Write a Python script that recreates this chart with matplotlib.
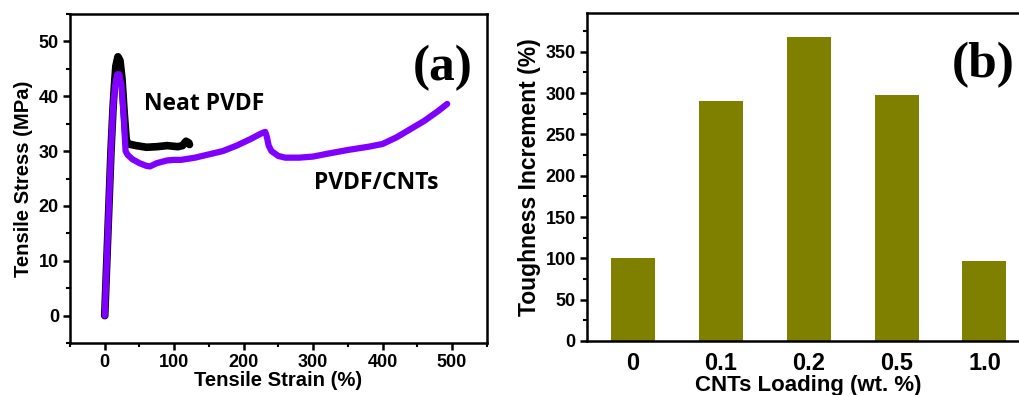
import matplotlib
matplotlib.use("Agg")
import matplotlib.pyplot as plt
from matplotlib.ticker import MultipleLocator

# --- data ---
neat_strain = [0, 6, 9, 12, 14, 16, 19, 22, 25, 28, 31, 34, 45, 60, 75, 90, 105, 112, 117, 121, 122]
neat_stress = [0, 20, 30, 38, 42, 45.5, 47.2, 46.5, 43, 37, 32, 31.3, 31, 30.7, 30.8, 31, 30.8, 31, 31.8, 31.5, 31.2]

cnt_strain = [0, 3, 6, 9, 12, 15, 18, 21, 24, 27, 30, 33, 40, 50, 60, 65, 75, 90, 100, 110, 130,
              150, 170, 190, 210, 225, 231, 233, 236, 240, 250, 260, 280, 300, 320, 350, 380,
              400, 420, 440, 460, 480, 493]
cnt_stress = [0, 10, 20, 30, 38, 42, 44, 44, 42, 37, 30, 29.3, 28.5, 27.8, 27.3, 27.2, 27.8, 28.3,
              28.4, 28.4, 28.8, 29.4, 30, 31, 32.2, 33.2, 33.5, 32.8, 31, 30, 29.1, 28.8, 28.8,
              29, 29.5, 30.2, 30.8, 31.3, 32.5, 34, 35.5, 37.3, 38.6]

loading_labels = ["0", "0.1", "0.2", "0.5", "1.0"]
toughness = [100, 291, 368, 298, 97]

PURPLE = "#7f00ff"
OLIVE = "#808000"

plt.rcParams["font.family"] = ["Liberation Sans", "DejaVu Sans"]
plt.rcParams["font.weight"] = "bold"

fig = plt.figure(figsize=(10.19, 3.95), dpi=100)
ax1 = fig.add_axes([0.0687, 0.1316, 0.409, 0.833])
ax2 = fig.add_axes([0.576, 0.137, 0.435, 0.830])

# (a) stress-strain
ax1.plot(neat_strain, neat_stress, color="black", lw=5.5, solid_capstyle="round")
ax1.plot(cnt_strain, cnt_stress, color=PURPLE, lw=4.5, solid_capstyle="round")
ax1.set_xlim(-50, 550)
ax1.set_ylim(-5, 55)
ax1.xaxis.set_major_locator(MultipleLocator(100))
ax1.xaxis.set_minor_locator(MultipleLocator(50))
ax1.yaxis.set_major_locator(MultipleLocator(10))
ax1.yaxis.set_minor_locator(MultipleLocator(5))
ax1.set_xlabel("Tensile Strain (%)", fontsize=14.6, fontweight="bold", labelpad=0)
ax1.set_ylabel("Tensile Stress (MPa)", fontsize=14.6, fontweight="bold", labelpad=4)
ax1.text(56, 38.5, "Neat PVDF", family="Open Sans", fontsize=16.5, fontweight="bold", va="center")
ax1.text(301, 24.2, "PVDF/CNTs", family="Open Sans", fontsize=16.5, fontweight="bold", va="center")
ax1.text(0.966, 0.835, "(a)", transform=ax1.transAxes, family="Liberation Serif",
         fontsize=37, fontweight="bold", ha="right", va="center")

# (b) toughness bars
xpos = list(range(len(loading_labels)))
ax2.bar(xpos, toughness, width=0.5, color=OLIVE)
ax2.set_xlim(-0.52, 4.52)
ax2.set_ylim(0, 397)
ax2.set_xticks(xpos)
ax2.set_xticklabels(loading_labels)
ax2.yaxis.set_major_locator(MultipleLocator(50))
ax2.yaxis.set_minor_locator(MultipleLocator(25))
ax2.set_xlabel("CNTs Loading (wt. %)", fontsize=16, fontweight="bold", labelpad=0)
ax2.set_ylabel("Toughness Increment (%)", fontsize=16.5, fontweight="bold", labelpad=3)
ax2.text(0.964, 0.84, "(b)", transform=ax2.transAxes, family="Liberation Serif",
         fontsize=37, fontweight="bold", ha="right", va="center")

for ax in (ax1, ax2):
    for sp in ax.spines.values():
        sp.set_linewidth(1.8)
    ax.tick_params(which="major", direction="out", length=5, width=1.8, labelsize=13, pad=3)
    ax.tick_params(which="minor", direction="out", length=3, width=1.5)
ax2.tick_params(axis="x", which="both", length=0, labelsize=17, pad=8)

fig.savefig("out.png", dpi=100)
